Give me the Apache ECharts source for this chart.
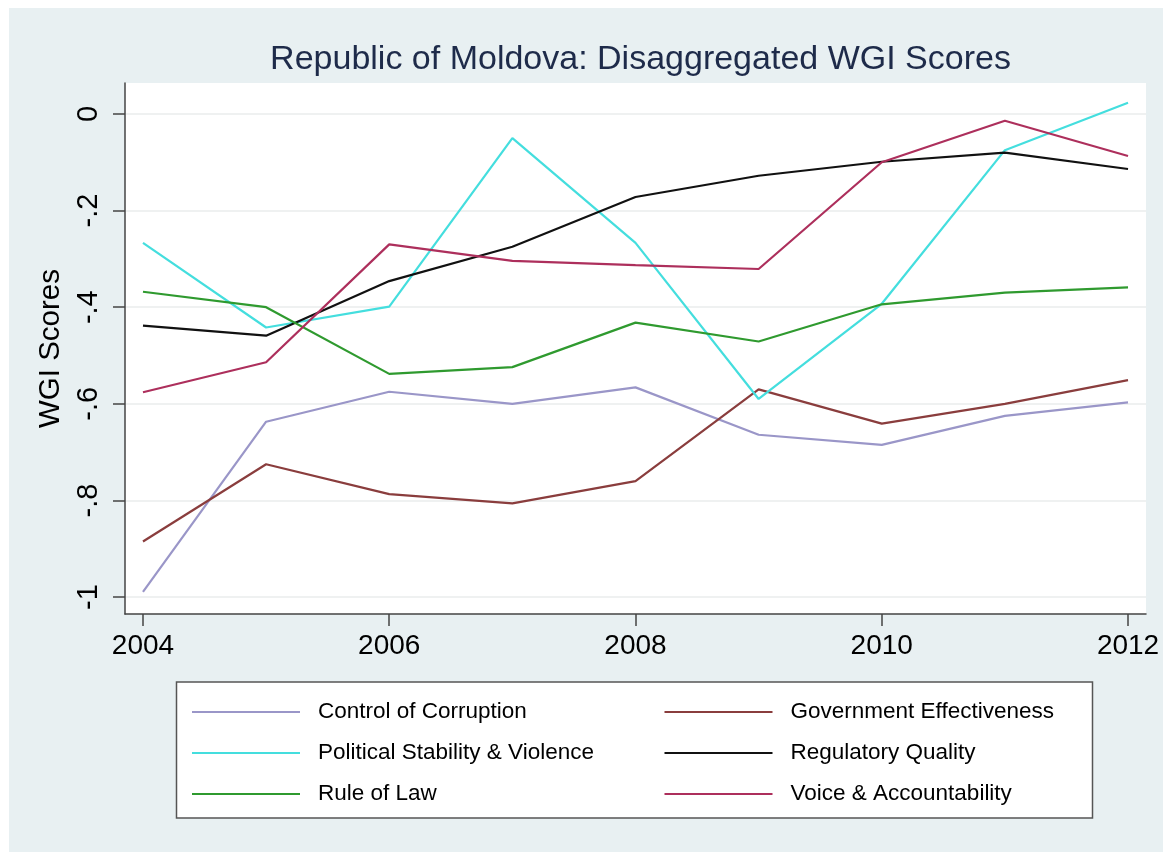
<!DOCTYPE html>
<html>
<head>
<meta charset="utf-8">
<script src="https://cdn.jsdelivr.net/npm/echarts@6/dist/echarts.min.js"></script>
<style>
html,body{margin:0;padding:0;background:#fff;}
#chart{width:1163px;height:852px;}
</style>
</head>
<body>
<div id="chart"></div>
<script>
const years = [2004, 2005, 2006, 2007, 2008, 2009, 2010, 2011, 2012];
const xTicks = [2004, 2006, 2008, 2010, 2012];
const yTicks = [-1, -0.8, -0.6, -0.4, -0.2, 0];

const controlOfCorruption      = [-0.989, -0.637, -0.575, -0.600, -0.566, -0.664, -0.685, -0.625, -0.597];
const governmentEffectiveness  = [-0.885, -0.725, -0.787, -0.806, -0.760, -0.570, -0.641, -0.600, -0.551];
const politicalStability       = [-0.267, -0.442, -0.399, -0.050, -0.267, -0.590, -0.393, -0.075, 0.023];
const regulatoryQuality        = [-0.438, -0.459, -0.346, -0.275, -0.172, -0.128, -0.099, -0.080, -0.114];
const ruleOfLaw                = [-0.368, -0.400, -0.538, -0.524, -0.432, -0.471, -0.394, -0.370, -0.359];
const voiceAccountability      = [-0.576, -0.514, -0.270, -0.304, -0.313, -0.321, -0.100, -0.014, -0.087];

const seriesNames = ['Control of Corruption', 'Government Effectiveness', 'Political Stability & Violence',
                     'Regulatory Quality', 'Rule of Law', 'Voice & Accountability'];
const seriesValues = [controlOfCorruption, governmentEffectiveness, politicalStability,
                      regulatoryQuality, ruleOfLaw, voiceAccountability];
const seriesColors = ['#9a96c8', '#8a3d3d', '#44dede', '#111111', '#2f9a2f', '#ad2f5c'];

const FONT = '"Liberation Sans", Arial, Helvetica, sans-serif';

function fmtY(v) {
  const r = Math.round(v * 10) / 10;
  if (r === 0) return '0';
  if (Math.abs(r) === 1) return r < 0 ? '-1' : '1';
  return (r < 0 ? '-' : '') + String(Math.abs(r)).replace(/^0/, '');
}

const chart = echarts.init(document.getElementById('chart'), null, {renderer: 'canvas'});
const option = {
  backgroundColor: '#e8f0f2',
  animation: false,
  title: {
    text: 'Republic of Moldova: Disaggregated WGI Scores',
    left: 635.5, textAlign: 'center', top: 38,
    textStyle: {fontFamily: FONT, fontSize: 34, fontWeight: 'normal', color: '#1e2b4a'}
  },
  graphic: [
    {type: 'rect', shape: {x: 0, y: 0, width: 1163, height: 8}, style: {fill: '#fff'}, silent: true},
    {type: 'rect', shape: {x: 0, y: 0, width: 9, height: 852}, style: {fill: '#fff'}, silent: true},
    {type: 'rect', shape: {x: 176.5, y: 682, width: 916, height: 136}, style: {fill: '#fff', stroke: '#555', lineWidth: 1.5}, silent: true, z: -1}
  ],
  grid: {
    left: 125, top: 83, right: 17, bottom: 238,
    show: true, backgroundColor: '#ffffff', borderWidth: 0
  },
  legend: {
    data: seriesNames,
    orient: 'horizontal',
    left: 192, top: 699, width: 940, padding: 0,
    itemWidth: 108, itemHeight: 14, itemGap: 15,
    icon: 'path://M0,6 L108,6 L108,8 L0,8 Z',
    textStyle: {fontFamily: FONT, fontSize: 22.5, color: '#000', width: 331.5, lineHeight: 26, padding: [0, 0, 0, 13]}
  },
  xAxis: {
    type: 'value', min: 2003.854, max: 2012.146,
    axisLine: {show: true, onZero: false, lineStyle: {color: '#444', width: 1.5}},
    axisTick: {show: true, length: 12, customValues: xTicks, lineStyle: {color: '#444', width: 1.5}},
    axisLabel: {customValues: xTicks, margin: 18, fontFamily: FONT, fontSize: 28, color: '#000',
                formatter: v => String(Math.round(v))},
    splitLine: {show: false}
  },
  yAxis: {
    type: 'value', min: -1.035, max: 0.064,
    name: 'WGI Scores', nameLocation: 'middle', nameRotate: 90, nameGap: 45,
    nameTextStyle: {fontFamily: FONT, fontSize: 29.5, color: '#000'},
    axisLine: {show: true, onZero: false, lineStyle: {color: '#444', width: 1.5}},
    axisTick: {show: true, length: 12, customValues: yTicks, lineStyle: {color: '#444', width: 1.5}},
    axisLabel: {customValues: yTicks, rotate: 90, margin: 22, fontFamily: FONT, fontSize: 29, color: '#000',
                formatter: fmtY},
    splitLine: {show: true, lineStyle: {color: '#eaeded', width: 1.5}}
  },
  series: seriesNames.map((name, i) => ({
    name: name,
    type: 'line',
    data: years.map((y, j) => [y, seriesValues[i][j]]),
    showSymbol: false, symbol: 'none',
    lineStyle: {color: seriesColors[i], width: 2.2},
    itemStyle: {color: seriesColors[i]},
    z: 3
  }))
};
chart.setOption(option);
</script>
</body>
</html>
